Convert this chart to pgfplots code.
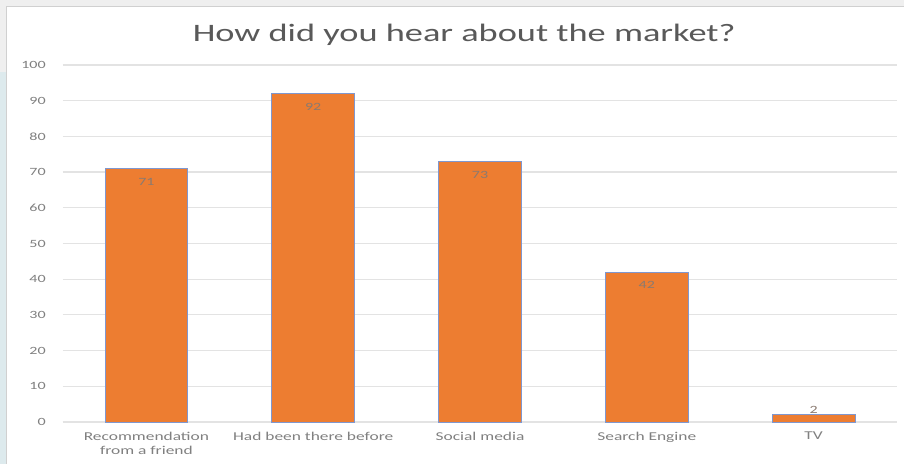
\documentclass[border=0pt]{standalone}
\usepackage{pgfplots}
\pgfplotsset{compat=1.18}
\usepackage{fontspec}
\setmainfont{Carlito}[FakeStretch=1.45]
\definecolor{barorange}{HTML}{ED7D31}
\definecolor{baredge}{HTML}{7F97CF}
\definecolor{gridgray}{HTML}{E3E3E3}
\definecolor{titlegray}{HTML}{595959}
\definecolor{tickgray}{HTML}{808080}
\definecolor{lblgray}{HTML}{8A7A70}
\definecolor{bandgray}{HTML}{EFEFEF}
\definecolor{bandblue}{HTML}{DDEAED}
\definecolor{edgegray}{HTML}{D0D0D0}
\begin{document}
\begin{tikzpicture}
\begin{scope}[x=0.75pt,y=0.75pt]
\useasboundingbox (-63,-42) rectangle (841,422);
\fill[white] (-63,-42) rectangle (841,422);
\fill[bandgray] (-63,415) rectangle (841,422);
\fill[bandgray] (-63,350) rectangle (-56,415);
\fill[bandblue] (-63,-42) rectangle (-56,350);
\draw[edgegray, line width=0.75pt] (-56,-42) -- (-56,415) -- (841,415);
\end{scope}
\begin{axis}[
  at={(0,0)}, anchor=south west,
  scale only axis,
  width=625.5pt, height=267.75pt,
  xmin=-0.5, xmax=4.5, ymin=0, ymax=100,
  ytick distance=10,
  xtick={0,1,2,3,4},
  xticklabels={{Recommendation\\from a friend},{Had been there before},{Social media},{Search Engine},{TV}},
  major tick length=0pt,
  axis lines*=left,
  x axis line style={-, draw=gridgray, line width=0.9pt},
  y axis line style={draw=none},
  ymajorgrids,
  grid style={draw=gridgray, line width=0.9pt},
  /pgf/number format/assume math mode=true,
  yticklabel style={anchor=east, inner sep=0pt, xshift=-12.75pt, font=\fontsize{8.3}{10}\selectfont, text=tickgray},
  xticklabel style={anchor=north, inner sep=0pt, yshift=-7.5pt, align=center, font=\fontsize{9}{10.5}\selectfont, text=tickgray},
  title={How did you hear about the market?},
  title style={at={(0.481,1)}, anchor=base, yshift=11.5pt, inner sep=0pt, font=\fontsize{18.8}{22}\selectfont, text=titlegray},
  ybar, bar width=62pt, bar shift=0pt,
  clip=false,
]
\addplot[fill=barorange, draw=baredge, line width=0.6pt,
  nodes near coords,
  every node near coord/.append style={anchor=center, yshift=-10pt, inner sep=0pt, font=\fontsize{8.3}{10}\selectfont, text=lblgray}]
  coordinates {(0,71) (1,92) (2,73) (3,42)};
\addplot[fill=barorange, draw=baredge, line width=0.6pt,
  nodes near coords,
  every node near coord/.append style={anchor=south, yshift=1pt, inner sep=0pt, font=\fontsize{8.3}{10}\selectfont, text=lblgray}]
  coordinates {(4,2)};
\end{axis}
\end{tikzpicture}
\end{document}
